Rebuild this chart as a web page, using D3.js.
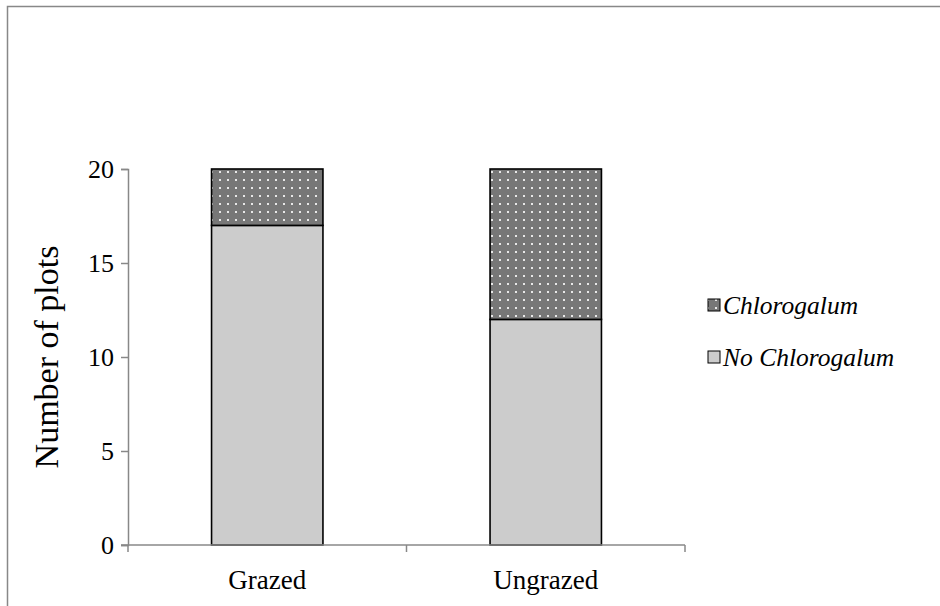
<!DOCTYPE html>
<html><head><meta charset="utf-8">
<script src="https://cdn.jsdelivr.net/npm/d3@7"></script>
<style>body{margin:0;background:#fff}svg{display:block}
svg text{font-family:"Liberation Serif","Times New Roman",Times,serif;fill:#000}</style>
</head><body>
<svg id="c" width="940" height="606"></svg>
<script>
const categories = ["Grazed", "Ungrazed"];
const noChlorogalum = [17, 12];
const chlorogalum = [3, 8];
const yTicks = [0, 5, 10, 15, 20];
const legendLabels = ["Chlorogalum", "No Chlorogalum"];

const svg = d3.select("#c");

// outer frame
svg.append("path").attr("d","M7.5,606 V6.5 H940").attr("fill","none").attr("stroke","#888").attr("stroke-width",1.5);

const defs = svg.append("defs");
const pat = defs.append("pattern").attr("id","dots").attr("patternUnits","userSpaceOnUse")
  .attr("width",8).attr("height",8);
pat.append("rect").attr("width",8).attr("height",8).attr("fill","#777");
pat.append("rect").attr("x",3).attr("y",3).attr("width",2).attr("height",2).attr("fill","#e8e8e8");

const x = d3.scaleBand().domain(categories).range([128, 685]).paddingInner(0.6).paddingOuter(0.3);
const y = d3.scaleLinear().domain([0, 20]).range([545, 169]);

// bars
const g = svg.append("g");
categories.forEach((c, i) => {
  g.append("rect").attr("x", x(c)).attr("width", x.bandwidth())
    .attr("y", y(noChlorogalum[i])).attr("height", y(0) - y(noChlorogalum[i]))
    .attr("fill","#cccccc").attr("stroke","#000").attr("stroke-width",1.6);
  g.append("rect").attr("x", x(c)).attr("width", x.bandwidth())
    .attr("y", y(noChlorogalum[i] + chlorogalum[i])).attr("height", y(noChlorogalum[i]) - y(noChlorogalum[i] + chlorogalum[i]))
    .attr("fill","url(#dots)").attr("stroke","#000").attr("stroke-width",1.6);
});

// y axis
const yAxis = d3.axisLeft(y).tickValues(yTicks).tickSize(7).tickPadding(7);
const ya = svg.append("g").attr("transform","translate(128,0)").call(yAxis);
ya.attr("font-family",null).attr("font-size",null);
ya.select(".domain").attr("stroke","#888").attr("stroke-width",1.5);
ya.selectAll(".tick line").attr("stroke","#888").attr("stroke-width",1.5);
ya.selectAll(".tick text").style("font-size","26px");

// x axis
const xa = svg.append("g").attr("transform","translate(0,545)");
xa.append("line").attr("x1",121).attr("x2",685).attr("stroke","#888").attr("stroke-width",1.5);
const edges = [x.range()[0], (x(categories[0]) + x.bandwidth() + x(categories[1]))/2, x.range()[1]];
edges.forEach(e => xa.append("line").attr("x1",e).attr("x2",e).attr("y1",0).attr("y2",7).attr("stroke","#888").attr("stroke-width",1.5));
categories.forEach(c => xa.append("text").attr("x", x(c) + x.bandwidth()/2).attr("y", 44)
  .attr("text-anchor","middle").style("font-size","27px").text(c));

// y title
svg.append("text").attr("transform","translate(58,357) rotate(-90)").attr("text-anchor","middle")
  .style("font-size","34px").text("Number of plots");

// legend
const fills = ["url(#dots)", "#cccccc"];
legendLabels.forEach((l, i) => {
  const ly = 305 + i * 52;
  svg.append("rect").attr("x",708).attr("y",ly-6).attr("width",12).attr("height",12)
    .attr("fill",fills[i]).attr("stroke","#000").attr("stroke-width",1);
  svg.append("text").attr("x",723).attr("y",ly+9).style("font-style","italic")
    .style("font-size","25.5px").text(l);
});
</script>
</body></html>
